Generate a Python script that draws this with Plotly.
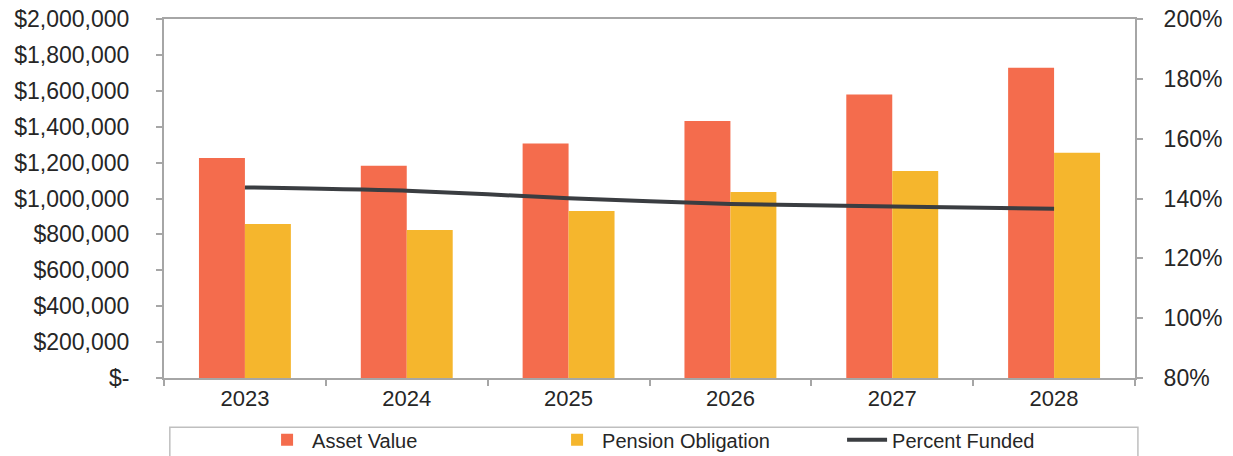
import plotly.graph_objects as go

years = ["2023", "2024", "2025", "2026", "2027", "2028"]
asset_value = [1225000, 1183000, 1307000, 1432000, 1580000, 1729000]
pension_obligation = [858000, 824000, 930000, 1036000, 1153000, 1255000]
percent_funded = [1.437, 1.426, 1.401, 1.382, 1.373, 1.366]

left_tickvals = [0, 200000, 400000, 600000, 800000, 1000000, 1200000, 1400000, 1600000, 1800000, 2000000]
left_ticktext = ["$-", "$200,000", "$400,000", "$600,000", "$800,000", "$1,000,000",
                 "$1,200,000", "$1,400,000", "$1,600,000", "$1,800,000", "$2,000,000"]
right_tickvals = [0.8, 1.0, 1.2, 1.4, 1.6, 1.8, 2.0]
right_ticktext = ["80%", "100%", "120%", "140%", "160%", "180%", "200%"]

ASSET = "#F46C4D"
PENSION = "#F5B62D"
LINE = "#3A3D41"
AXIS = "#A6A6A6"
TXT = "#262626"
FONT = "Liberation Sans, Arial, sans-serif"

fig = go.Figure()
fig.add_trace(go.Bar(x=years, y=asset_value, name="Asset Value", marker_color=ASSET,
                     marker_line_width=0, yaxis="y"))
fig.add_trace(go.Bar(x=years, y=pension_obligation, name="Pension Obligation",
                     marker_color=PENSION, marker_line_width=0, yaxis="y"))
fig.add_trace(go.Scatter(x=years, y=percent_funded, name="Percent Funded", mode="lines",
                         line=dict(color=LINE, width=4, shape="spline", smoothing=0.6),
                         yaxis="y2"))

fig.update_layout(
    width=1233, height=456,
    margin=dict(l=164, r=98, t=19, b=78, autoexpand=False),
    paper_bgcolor="white", plot_bgcolor="white",
    barmode="group", bargap=0.432, bargroupgap=0,
    font=dict(family=FONT, color=TXT, size=20),
    showlegend=True,
    legend=dict(orientation="h", x=0.101, xanchor="left", y=-0.172, yanchor="middle",
                font=dict(size=20, family=FONT, color=TXT), entrywidth=235,
                bgcolor="rgba(0,0,0,0)", borderwidth=0, itemwidth=40,
                tracegroupgap=0),
    xaxis=dict(type="category", showline=True, linecolor=AXIS, linewidth=2, mirror=True,
               ticks="outside", tickson="boundaries", ticklen=6, tickcolor=AXIS, tickwidth=2,
               tickfont=dict(size=22, color=TXT), showgrid=False, zeroline=False),
    yaxis=dict(range=[0, 2000000], tickvals=left_tickvals, ticktext=left_ticktext,
               showline=True, linecolor=AXIS, linewidth=2, ticks="outside", ticklen=6,
               tickcolor=AXIS, tickwidth=2, tickfont=dict(size=23, color=TXT),
               showgrid=False, zeroline=False, ticklabelstandoff=22),
    yaxis2=dict(range=[0.8, 2.0], tickvals=right_tickvals, ticktext=right_ticktext,
                overlaying="y", side="right", showline=True, linecolor=AXIS, linewidth=2,
                ticks="outside", ticklen=6, tickcolor=AXIS, tickwidth=2,
                tickfont=dict(size=23, color=TXT), showgrid=False, zeroline=False,
                ticklabelstandoff=16),
    shapes=[dict(type="rect", xref="paper", yref="paper", x0=0.006, x1=1.003,
                 y0=-0.137, y1=-0.3, line=dict(color="#BFBFBF", width=1.5),
                 fillcolor="rgba(0,0,0,0)", layer="below")],
)

fig.write_html("out.html")
